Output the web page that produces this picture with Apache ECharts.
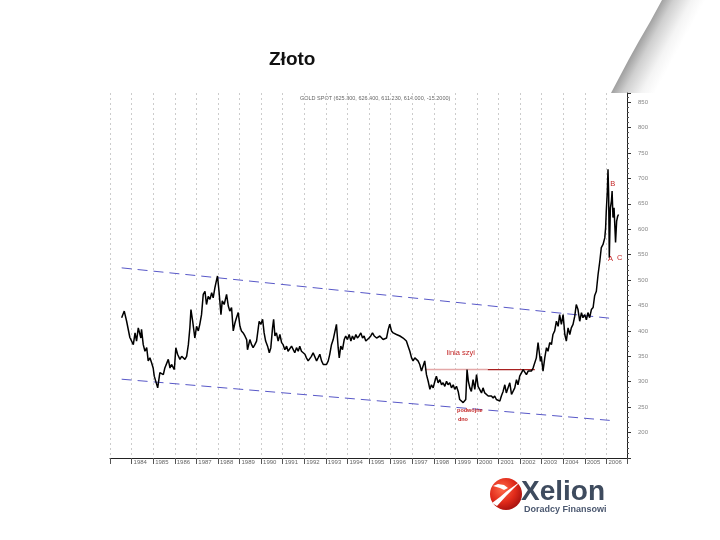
<!DOCTYPE html>
<html>
<head>
<meta charset="utf-8">
<script src="https://cdn.jsdelivr.net/npm/echarts@6/dist/echarts.min.js"></script>
<style>html,body{margin:0;padding:0;background:#fff}#c{width:720px;height:540px}</style>
</head>
<body>
<div id="c"></div>
<script>
// ---- data (decimal year, price USD/oz) ----
const years = [
1983.54,1983.66,1983.77,1983.92,1984.08,1984.16,1984.23,1984.31,1984.43,1984.46,1984.54,1984.62,1984.70,1984.77,1984.85,1984.93,
1985.00,1985.05,1985.11,1985.21,1985.31,1985.39,1985.47,1985.54,1985.70,1985.78,1985.85,1985.98,
1986.05,1986.13,1986.24,1986.32,1986.47,1986.55,1986.63,1986.70,1986.75,1986.83,1986.93,
1987.01,1987.09,1987.16,1987.24,1987.32,1987.40,1987.47,1987.55,1987.63,1987.71,1987.78,1987.86,1987.94,1987.98,
1988.05,1988.14,1988.20,1988.29,1988.40,1988.48,1988.55,1988.63,1988.71,1988.79,1988.86,1988.94,
1989.02,1989.09,1989.17,1989.25,1989.33,1989.37,1989.48,1989.56,1989.63,1989.71,1989.79,1989.87,1989.91,1989.99,
1990.07,1990.14,1990.21,1990.30,1990.38,1990.45,1990.53,1990.58,1990.64,1990.71,1990.79,1990.87,1990.95,
1991.02,1991.10,1991.18,1991.25,1991.33,1991.41,1991.49,1991.56,1991.64,1991.72,1991.79,1991.87,1991.95,
1992.03,1992.10,1992.18,1992.26,1992.33,1992.41,1992.49,1992.57,1992.64,1992.72,1992.80,1992.88,1992.95,
1993.03,1993.11,1993.18,1993.26,1993.34,1993.41,1993.49,1993.57,1993.62,1993.69,1993.77,1993.85,1993.92,
1994.00,1994.08,1994.16,1994.23,1994.31,1994.39,1994.46,1994.54,1994.62,1994.70,1994.77,1994.85,1994.93,
1995.00,1995.08,1995.16,1995.24,1995.35,1995.50,1995.65,1995.81,1995.89,1995.96,
1996.04,1996.12,1996.27,1996.43,1996.58,1996.73,1996.81,1996.89,1996.97,
1997.04,1997.12,1997.20,1997.27,1997.35,1997.43,1997.51,1997.58,1997.66,1997.74,1997.82,1997.89,1997.97,
1998.05,1998.12,1998.20,1998.28,1998.36,1998.43,1998.51,1998.59,1998.66,1998.74,1998.82,1998.90,1998.97,
1999.05,1999.13,1999.20,1999.28,1999.36,1999.44,1999.48,1999.54,1999.60,1999.67,1999.74,1999.82,1999.90,1999.98,
2000.05,2000.13,2000.21,2000.28,2000.36,2000.44,2000.52,2000.59,2000.67,2000.75,2000.82,2000.90,2000.98,
2001.06,2001.13,2001.21,2001.29,2001.36,2001.44,2001.52,2001.60,2001.67,2001.75,2001.83,2001.90,2001.98,
2002.06,2002.14,2002.21,2002.29,2002.37,2002.44,2002.52,2002.60,2002.68,2002.75,2002.83,2002.88,2002.94,2002.98,
2003.06,2003.14,2003.22,2003.29,2003.37,2003.45,2003.52,2003.60,2003.68,2003.76,2003.83,2003.91,2003.99,
2004.07,2004.14,2004.22,2004.30,2004.37,2004.45,2004.53,2004.60,2004.68,2004.76,2004.84,2004.91,2004.99,
2005.07,2005.14,2005.22,2005.30,2005.38,2005.45,2005.53,2005.61,2005.69,2005.76,2005.84,2005.92,2005.96,2005.99,
2006.04,2006.07,2006.10,2006.13,2006.18,2006.23,2006.26,2006.30,2006.35,2006.39,2006.42,2006.47,2006.52,2006.56
];
const prices = [
426,439,419,387,373,396,380,406,386,403,373,360,367,341,347,337,
327,311,308,288,318,321,314,327,344,327,334,324,
367,354,344,350,344,350,373,406,442,419,386,
409,400,413,432,472,478,452,468,462,475,465,485,501,508,
478,432,459,452,472,449,439,446,400,416,426,436,
409,400,396,390,383,363,383,373,367,373,380,406,419,413,
423,396,380,370,357,367,406,423,390,396,380,393,377,
373,363,370,360,363,370,367,357,367,360,370,360,357,
354,347,341,344,350,357,360,341,347,354,341,334,337,
334,341,354,373,383,380,413,367,347,370,363,383,390,
383,393,380,390,383,393,386,390,396,386,390,380,383,
386,390,396,390,386,390,383,386,403,413,
400,396,393,390,386,380,370,360,347,
341,347,344,341,334,321,324,341,314,301,285,294,288,
301,311,298,304,294,298,291,301,294,298,288,294,285,
291,281,265,262,259,260,265,324,301,288,281,304,285,314,
291,288,278,288,278,275,272,275,272,268,272,265,263,
262,272,281,294,278,288,298,275,278,288,304,294,311,
314,324,321,314,321,324,321,327,324,347,377,360,340,350,
321,347,367,360,377,373,393,400,419,409,432,413,432,
393,380,406,393,406,413,429,452,442,419,436,426,432,
422,436,426,442,446,469,478,511,537,564,570,583,603,636,
675,718,669,544,642,656,675,623,642,603,574,616,626,629
];
// trend channel (start / end)
const channelYears = [1983.54, 2006.15];
const upperChannel = [524, 425];
const lowerChannel = [305, 224];
// neckline ("linia szyi")
const neckYearsLight = [1997.58, 2000.50];
const neckYearsDark = [2000.50, 2002.68];
const neckValue = 324;
// annotations
const noteYears = [1999.25, 1999.67, 1999.35, 2006.19, 2006.29, 2006.61];
const noteValues = [356, 243, 225, 541, 689, 543];
const noteTexts = ['linia szyi', 'podwójne', 'dno', 'A', 'B', 'C'];
const noteSizes = [7.5, 5.5, 5.5, 7.5, 7.5, 7.5];
// axis tick labels
const yearLabels = [1984,1985,1986,1987,1988,1989,1990,1991,1992,1993,1994,1995,1996,1997,1998,1999,2000,2001,2002,2003,2004,2005,2006];
const priceLabels = [200,250,300,350,400,450,500,550,600,650,700,750,800,850];

const chart = echarts.init(document.getElementById('c'), null, {renderer: 'canvas'});
const FONT = 'Liberation Sans, Arial, sans-serif';

const option = {
  backgroundColor: '#ffffff',
  animation: false,
  title: {
    text: 'Złoto', left: 264, top: 45,
    textStyle: {fontFamily: FONT, fontSize: 19, fontWeight: 'bold', color: '#111'}
  },
  grid: {left: 110, right: 93, top: 93, bottom: 82, containLabel: false},
  xAxis: {
    type: 'value', min: 1983, max: 2006.95, interval: 1,
    axisLine: {show: true, lineStyle: {color: '#222', width: 1}},
    axisTick: {show: true, length: 6, lineStyle: {color: '#555'}},
    axisLabel: {
      show: true, fontFamily: FONT, fontSize: 6, color: '#666', margin: 1,
      align: 'left', padding: [0, 0, 0, 2],
      formatter: v => yearLabels.indexOf(Math.round(v)) >= 0 ? String(Math.round(v)) : ''
    },
    splitLine: {show: true, lineStyle: {color: '#cccccc', type: [2, 3], width: 1}}
  },
  yAxis: {
    type: 'value', position: 'right', min: 150, max: 868, interval: 50,
    axisLine: {show: true, lineStyle: {color: '#222', width: 1}},
    axisTick: {show: true, length: 4, lineStyle: {color: '#333'}},
    minorTick: {show: true, splitNumber: 5, length: 2, lineStyle: {color: '#555'}},
    axisLabel: {
      fontFamily: FONT, fontSize: 6, color: '#888', margin: 11,
      formatter: v => priceLabels.indexOf(v) >= 0 ? String(v) : ''
    },
    splitLine: {show: false}
  },
  series: [
    {
      name: 'upper', type: 'line', symbol: 'none', silent: true,
      data: channelYears.map((y, i) => [y, upperChannel[i]]),
      lineStyle: {color: '#5858c8', width: 1, type: [10, 6]}
    },
    {
      name: 'lower', type: 'line', symbol: 'none', silent: true,
      data: channelYears.map((y, i) => [y, lowerChannel[i]]),
      lineStyle: {color: '#5858c8', width: 1, type: [10, 6]}
    },
    {
      name: 'neckLight', type: 'line', symbol: 'none', silent: true,
      data: neckYearsLight.map(y => [y, neckValue]),
      lineStyle: {color: '#e4a8a8', width: 1.4}
    },
    {
      name: 'neckDark', type: 'line', symbol: 'none', silent: true,
      data: neckYearsDark.map(y => [y, neckValue]),
      lineStyle: {color: '#a82020', width: 1.3}
    },
    {
      name: 'GOLD SPOT', type: 'line', symbol: 'none', z: 3,
      data: years.map((y, i) => [y, prices[i]]),
      lineStyle: {color: '#000', width: 1.5}
    },
    {
      name: 'notes', type: 'scatter', symbol: 'circle', symbolSize: 1, silent: true, z: 5,
      itemStyle: {color: 'rgba(0,0,0,0)'},
      data: noteYears.map((y, i) => ({value: [y, noteValues[i]], label: {fontSize: noteSizes[i], fontWeight: noteSizes[i] < 6 ? 'bold' : 'normal'}})),
      label: {
        show: true, position: 'inside', color: '#c42828', opacity: 1, fontFamily: FONT,
        formatter: p => noteTexts[p.dataIndex]
      }
    }
  ],
  graphic: [
    // page-curl decoration top right
    {
      type: 'polygon', silent: true, z: -1,
      shape: {points: [[611,93],[620,76],[629,59],[639,41],[650,22],[662,0],[720,0],[720,93]]},
      style: {
        fill: {
          type: 'linear', x: 635, y: 46, x2: 670, y2: 65, global: true,
          colorStops: [
            {offset: 0, color: '#9a9a9a'}, {offset: 0.3, color: '#cfcfcf'},
            {offset: 0.7, color: '#f4f4f4'}, {offset: 1, color: '#ffffff'}
          ]
        }
      }
    },
    {
      type: 'text', left: 300, top: 95, silent: true,
      style: {text: 'GOLD SPOT (625.300, 626.400, 611.230, 614.000, -15.2000)', font: '5.5px ' + FONT, fill: '#666'}
    },
    // logo
    {
      type: 'circle', silent: true,
      shape: {cx: 506, cy: 494, r: 16},
      style: {
        fill: {
          type: 'radial', x: 0.38, y: 0.35, r: 0.75,
          colorStops: [
            {offset: 0, color: '#ff6a4a'}, {offset: 0.55, color: '#e02a1a'}, {offset: 1, color: '#9a0c0c'}
          ]
        }
      }
    },
    {
      type: 'polygon', silent: true,
      shape: {points: [[492,503],[500,497],[507,491],[514,486],[521,481],[514,488],[507,495],[497,506]]},
      style: {fill: '#ffffff'}
    },
    {
      type: 'polygon', silent: true,
      shape: {points: [[493,486],[498,484],[504,485],[508,488],[504,490],[500,488]]},
      style: {fill: '#ffffff'}
    },
    {
      type: 'text', left: 521, top: 478, silent: true,
      style: {text: 'Xelion', font: 'bold 28px ' + FONT, fill: '#3e4b5e'}
    },
    {
      type: 'text', left: 524, top: 505, silent: true,
      style: {text: 'Doradcy Finansowi', font: 'bold 9px ' + FONT, fill: '#4b5870'}
    }
  ]
};
chart.setOption(option);
</script>
</body>
</html>
